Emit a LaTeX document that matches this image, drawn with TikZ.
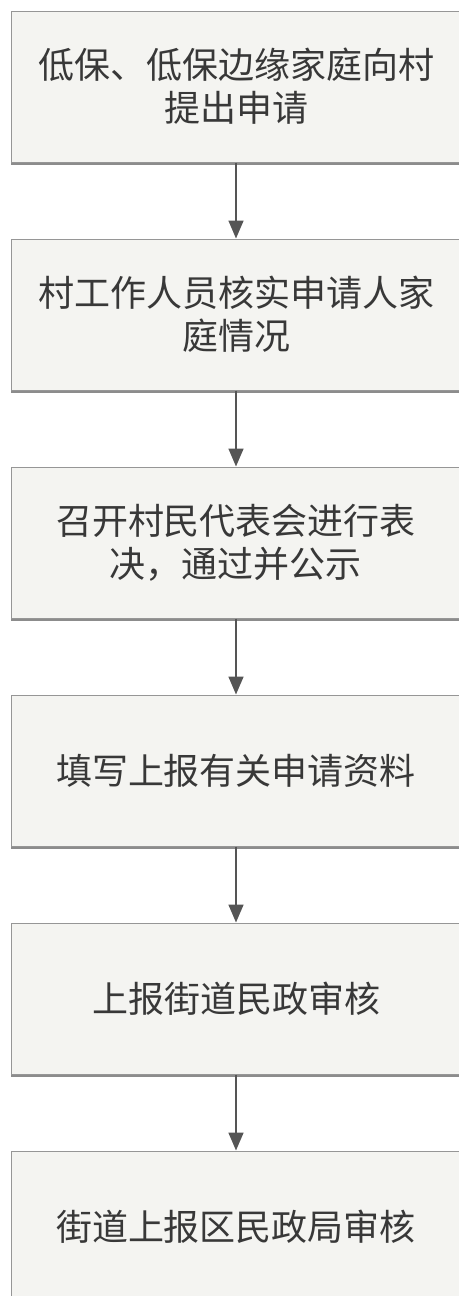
\documentclass[tikz,border=0pt]{standalone}
\usepackage{fontspec}
\usepackage{tikz}
\usetikzlibrary{positioning,arrows.meta,shadows}
\newfontfamily\cjk{Noto Sans CJK SC}
\definecolor{boxfill}{RGB}{244,244,241}
\definecolor{boxline}{RGB}{150,150,150}
\definecolor{arrowc}{RGB}{85,85,85}
\newcommand{\drawflow}{\draw[flow]}
\tikzset{
  stepbox/.style={draw=boxline, fill=boxfill, line width=1pt,
    minimum width=450pt, minimum height=151pt, inner sep=0pt,
    align=center, text=black!78,
    font=\cjk\fontsize{36}{43}\selectfont,
    drop shadow={shadow xshift=0pt, shadow yshift=-2.5pt, fill=black!45, opacity=1}},
  flow/.style={draw=arrowc, line width=1.6pt, -{Triangle[length=18pt,width=15pt]}}
}

\begin{document}
\begin{tikzpicture}[x=1pt,y=-1pt]
\useasboundingbox (0,0) rectangle (458,1296);
\node[stepbox] (apply) at (236,86.5) {低保、低保边缘家庭向村\\提出申请};
\node[stepbox, below=76pt of apply] (verify) {村工作人员核实申请人家\\庭情况};
\node[stepbox, below=76pt of verify] (vote) {召开村民代表会进行表\\决，通过并公示};
\node[stepbox, below=76pt of vote] (fill) {填写上报有关申请资料};
\node[stepbox, below=76pt of fill] (street) {上报街道民政审核};
\node[stepbox, below=76pt of street] (district) {街道上报区民政局审核};
\drawflow (apply) -- (verify);
\drawflow (verify) -- (vote);
\drawflow (vote) -- (fill);
\drawflow (fill) -- (street);
\drawflow (street) -- (district);
\end{tikzpicture}
\end{document}
